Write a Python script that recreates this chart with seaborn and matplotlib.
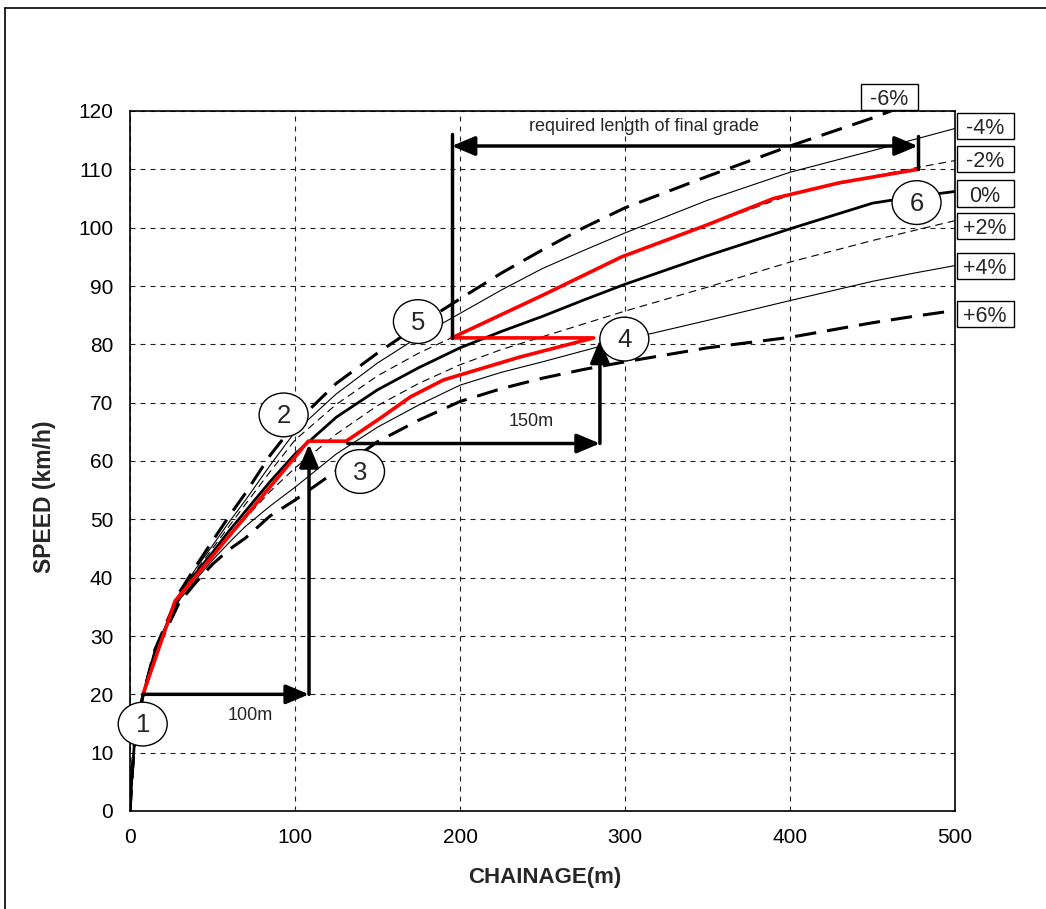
import numpy as np
import pandas as pd
import matplotlib
matplotlib.use("Agg")
import matplotlib.pyplot as plt
import seaborn as sns
from matplotlib.patches import Ellipse, Rectangle
from matplotlib.lines import Line2D
from matplotlib.ticker import MultipleLocator

sns.set_style("white")
plt.rcParams['font.family'] = ['Liberation Sans', 'DejaVu Sans']

# ---- data ----
chainage = [0, 1, 2.5, 5, 8, 15, 30, 40, 50, 60, 70, 85, 100, 125, 150, 175, 200,
            225, 250, 275, 300, 350, 400, 450, 475, 500]

speed_m6 = [0, 5, 11, 16, 20, 27.6, 37.5, 42.0, 46.3, 50.5, 54.5, 61.0, 66.4, 73.3, 78.5, 83.3, 87.8,
            92.2, 96.2, 100.0, 103.4, 108.8, 114.0, 118.8, 121.5, 124.0]
speed_m4 = [0, 5, 11, 16, 20, 27.5, 37.3, 41.6, 45.5, 49.5, 53.3, 59.3, 65.0, 71.5, 76.8, 81.3, 85.3,
            89.3, 93.0, 96.1, 99.1, 104.7, 109.5, 113.2, 115.1, 117.0]
speed_m2 = [0, 5, 11, 16, 20, 27.4, 37.1, 41.2, 45.0, 48.8, 52.6, 58.2, 63.6, 69.7, 74.6, 78.5, 81.8,
            85.2, 88.4, 91.8, 95.2, 100.5, 105.6, 108.8, 110.2, 111.5]
speed_0 = [0, 5, 11, 16, 20, 27.3, 36.8, 40.8, 44.3, 48.0, 51.4, 56.5, 61.2, 67.5, 72.2, 76.0, 79.4,
           82.2, 84.8, 87.6, 90.3, 95.2, 99.8, 104.2, 105.3, 106.2]
speed_p2 = [0, 5, 11, 16, 20, 27.2, 36.5, 40.3, 43.7, 47.0, 50.2, 54.8, 58.8, 64.6, 69.5, 73.3, 76.5,
            79.1, 81.3, 83.5, 85.7, 89.8, 94.1, 97.8, 99.5, 101.2]
speed_p4 = [0, 5, 11, 16, 20, 27.1, 36.2, 39.7, 43.0, 46.0, 48.8, 52.3, 55.5, 61.2, 65.8, 69.6, 73.0,
            75.2, 77.0, 78.9, 80.8, 84.1, 87.5, 90.8, 92.2, 93.5]
speed_p6 = [0, 5, 11, 16, 20, 27.0, 35.8, 39.2, 42.3, 44.8, 46.8, 50.6, 53.3, 58.3, 63.3, 67.0, 70.2,
            72.4, 74.2, 75.7, 77.0, 79.4, 81.2, 83.7, 84.8, 85.8]

grades = ['-6%', '-4%', '-2%', '0%', '+2%', '+4%', '+6%']
speeds = [speed_m6, speed_m4, speed_m2, speed_0, speed_p2, speed_p4, speed_p6]

# red path 1 -> 2 -> 3 -> 4 -> 5 -> 6
red_x = [7.9, 27.3, 108.0, 131.0, 151.5, 170.0, 190.0, 236.0, 281.0, 195.0, 250.0, 298.0, 350.0, 390.0, 430.0, 477.5]
red_y = [20.0, 36.0, 63.4, 63.4, 67.3, 71.0, 73.9, 77.8, 81.1, 81.1, 88.4, 95.0, 100.5, 105.0, 107.7, 110.0]

# numbered points
point_labels = ['1', '2', '3', '4', '5', '6']
point_x = [7.7, 93.1, 139.4, 299.6, 174.5, 476.7]
point_y = [14.9, 67.9, 58.2, 80.9, 83.9, 104.3]

# ---- styles ----
styles = {
    '-6%': dict(lw=2.2, linestyle=(0, (7, 3.6))),
    '-4%': dict(lw=0.8, linestyle='-'),
    '-2%': dict(lw=0.8, linestyle=(0, (7, 4.5))),
    '0%': dict(lw=2.0, linestyle='-'),
    '+2%': dict(lw=0.8, linestyle=(0, (7, 4.5))),
    '+4%': dict(lw=0.8, linestyle='-'),
    '+6%': dict(lw=2.2, linestyle=(0, (7, 3.6))),
}
# label boxes: lower-left corner in data units, all same size
box_pos = {
    '-6%': (443.0, 120.2),
    '-4%': (501.0, 115.2),
    '-2%': (501.0, 109.5),
    '0%': (501.0, 103.6),
    '+2%': (501.0, 98.1),
    '+4%': (501.0, 91.2),
    '+6%': (501.0, 82.9),
}
box_w, box_h = 34.5, 4.5

W, H = 1046, 909
fig = plt.figure(figsize=(W / 100, H / 100), dpi=100)
ax = fig.add_axes([130 / W, 1 - 811 / H, 825 / W, 700 / H])

for g, spd in zip(grades, speeds):
    sns.lineplot(x=chainage, y=spd, ax=ax, color='black', sort=False,
                 estimator=None, zorder=2, **styles[g])

sns.lineplot(x=red_x, y=red_y, ax=ax, color='#ff0000', lw=2.6, sort=False,
             estimator=None, zorder=3)

# arrows
arrow_kw = dict(arrowstyle='-|>,head_length=1.0,head_width=0.42', color='black',
                lw=2.5, mutation_scale=14, shrinkA=0, shrinkB=0)
arrows = [((7.9, 20), (108.5, 20)), ((108.5, 20), (108.5, 62.9)),
          ((132, 63), (284.8, 63)), ((284.8, 63), (284.8, 80.8))]
for start, end in arrows:
    ax.annotate('', xy=end, xytext=start, arrowprops=arrow_kw, zorder=4)

dbl_kw = dict(arrow_kw)
dbl_kw['arrowstyle'] = '<|-|>,head_length=1.0,head_width=0.42'
ax.annotate('', xy=(477.5, 114), xytext=(195, 114), arrowprops=dbl_kw, zorder=4)
ax.plot([195, 195], [81.1, 116], color='black', lw=2.5, zorder=4)
ax.plot([477.5, 477.5], [110, 115.8], color='black', lw=2.5, zorder=4)

ax.text(72.7, 16.3, '100m', fontsize=13, ha='center', va='center')
ax.text(243.4, 66.7, '150m', fontsize=13, ha='center', va='center')
ax.text(311.5, 117.4, 'required length of final grade', fontsize=13,
        ha='center', va='center')

for lab, px, py in zip(point_labels, point_x, point_y):
    ax.add_patch(Ellipse((px, py), width=29.7, height=7.5, fc='white', ec='black',
                         lw=1.0, zorder=5, clip_on=False))
    ax.text(px, py - 0.2, lab, fontsize=18.5, ha='center', va='center', zorder=6,
            clip_on=False)

for g in grades:
    x0, y0 = box_pos[g]
    ax.add_patch(Rectangle((x0, y0), box_w, box_h, fc='white', ec='black', lw=1.0,
                           clip_on=False, zorder=6))
    ax.text(x0 + box_w / 2, y0 + box_h / 2 - 0.45, g, fontsize=15.5, ha='center',
            va='center', clip_on=False, zorder=7)

# axes
ax.set_xlim(0, 500)
ax.set_ylim(0, 120)
ax.xaxis.set_major_locator(MultipleLocator(100))
ax.xaxis.set_minor_locator(MultipleLocator(20))
ax.yaxis.set_major_locator(MultipleLocator(10))
ax.yaxis.set_minor_locator(MultipleLocator(5))
ax.tick_params(which='major', direction='in', length=5, width=1, labelsize=15,
               colors='black')
ax.tick_params(which='minor', direction='in', length=4, width=1)
ax.tick_params(axis='x', pad=12)
ax.tick_params(axis='y', pad=12)
ax.grid(True, which='major', color='#222222', lw=0.8, linestyle=(0, (4.5, 4.5)))
for sp in ax.spines.values():
    sp.set_color('black')
    sp.set_linewidth(1.2)
ax.set_xlabel('')
ax.set_ylabel('')

fig.text(545 / W, 1 - 877 / H, 'CHAINAGE(m)', fontsize=16, fontweight='bold',
         ha='center', va='center')
fig.text(45 / W, 1 - 497 / H, 'SPEED (km/h)', fontsize=16.5, fontweight='bold',
         ha='center', va='center', rotation=90)

# outer frame (left and top edges visible)
fig.add_artist(Line2D([4.5 / W, 4.5 / W], [0, 1 - 7.5 / H], transform=fig.transFigure,
                      color='black', lw=1.2))
fig.add_artist(Line2D([4.5 / W, 1], [1 - 7.5 / H, 1 - 7.5 / H], transform=fig.transFigure,
                      color='black', lw=1.2))

fig.savefig('out.png', dpi=100)
